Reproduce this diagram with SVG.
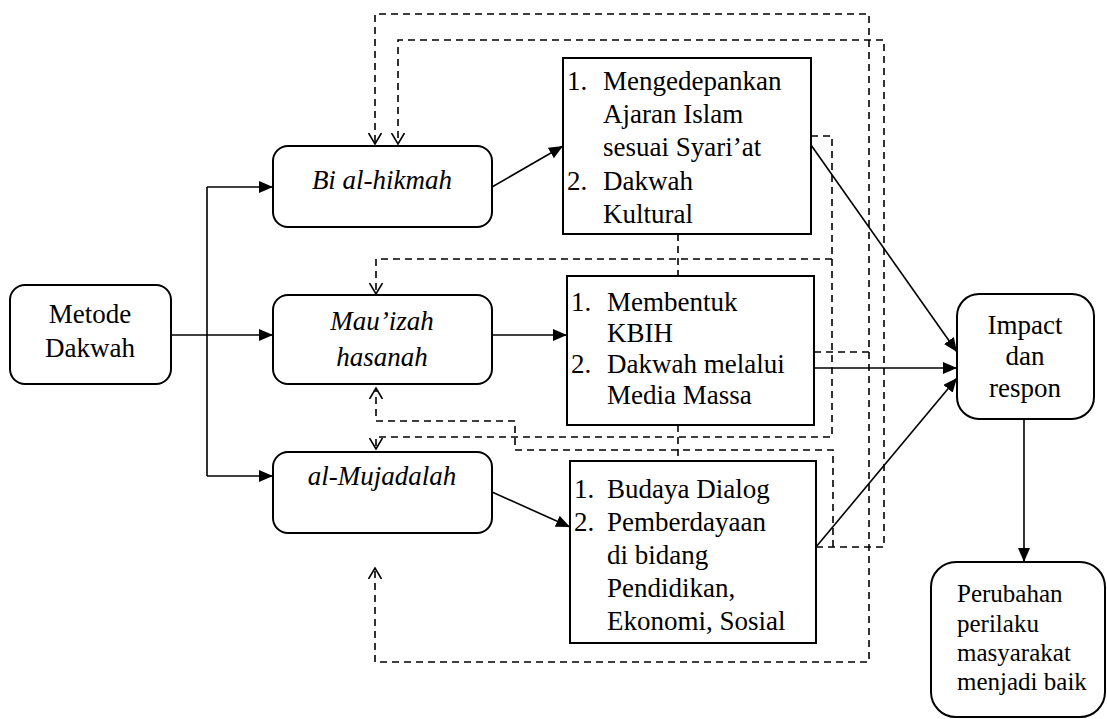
<svg xmlns="http://www.w3.org/2000/svg" width="1107" height="719" viewBox="0 0 1107 719">
<style>
.box{fill:#fff;stroke:#000;stroke-width:2}
.t{font-family:"Liberation Serif","Times New Roman",serif;font-size:27px;fill:#000}
.s{font-family:"Liberation Serif","Times New Roman",serif;font-size:25px;fill:#000}
.c{text-anchor:middle}
.i{font-style:italic}
.sol{fill:none;stroke:#000;stroke-width:1.6}
.das{fill:none;stroke:#000;stroke-width:1.6;stroke-dasharray:7 5}
</style>
<defs>
<marker id="arr" viewBox="0 0 14 12" refX="14" refY="6" markerWidth="14" markerHeight="12" orient="auto" markerUnits="userSpaceOnUse"><path d="M0,0 L14,6 L0,12 z" fill="#000"/></marker>
<marker id="open" viewBox="0 0 12 14" refX="11" refY="7" markerWidth="12" markerHeight="14" orient="auto" markerUnits="userSpaceOnUse"><path d="M0,0.5 L11,7 L0,13.5" fill="none" stroke="#000" stroke-width="1.6" stroke-dasharray="none"/></marker>
</defs>
<rect width="1107" height="719" fill="#fff"/>
<g id="connectors">
<path class="sol" d="M171,335 H207 M207,187 V476"/>
<path class="sol" d="M207,187 H273" marker-end="url(#arr)"/>
<path class="sol" d="M207,335 H273" marker-end="url(#arr)"/>
<path class="sol" d="M207,476 H273" marker-end="url(#arr)"/>
<path class="sol" d="M492,187 L563,146" marker-end="url(#arr)"/>
<path class="sol" d="M492,335 H567" marker-end="url(#arr)"/>
<path class="sol" d="M492,492 L570,527" marker-end="url(#arr)"/>
<path class="sol" d="M811,145 L957,352" marker-end="url(#arr)"/>
<path class="sol" d="M814,368 H957" marker-end="url(#arr)"/>
<path class="sol" d="M816,547 L957,378" marker-end="url(#arr)"/>
<path class="sol" d="M1024,419 V562" marker-end="url(#arr)"/>
<path class="das" d="M811,136 H832 V437 H376 V449" marker-end="url(#open)"/>
<path class="das" d="M832,259 H376 V294" marker-end="url(#open)"/>
<path class="das" d="M678,234 V276 M678,425 V461"/>
<path class="das" d="M814,352 H869 V14 H375 V144" marker-end="url(#open)"/>
<path class="das" d="M869,352 V662 H375 V568" marker-end="url(#open)"/>
<path class="das" d="M816,547 H884 V40 H398 V144" marker-end="url(#open)"/>
<path class="das" d="M833,547 V450 H515 V421 H376 V388" marker-end="url(#open)"/>
</g>
<g id="metode">
<rect class="box" x="10" y="285" width="161" height="99" rx="15"/>
<text class="t c" x="90" y="323">Metode</text>
<text class="t c" x="90" y="357">Dakwah</text>
</g>
<g id="bi-al-hikmah">
<rect class="box" x="273" y="146" width="219" height="81" rx="15"/>
<text class="t c i" x="382" y="189">Bi al-hikmah</text>
</g>
<g id="mauizah">
<rect class="box" x="273" y="295" width="219" height="89" rx="15"/>
<text class="t c i" x="382" y="330">Mau’izah</text>
<text class="t c i" x="382" y="366">hasanah</text>
</g>
<g id="al-mujadalah">
<rect class="box" x="273" y="452" width="219" height="81" rx="15"/>
<text class="t c i" x="382" y="485">al-Mujadalah</text>
</g>
<g id="hasil-1">
<rect class="box" x="563" y="58" width="248" height="176"/>
<text class="t" x="567" y="90">1.</text>
<text class="t" x="603" y="90">Mengedepankan</text>
<text class="t" x="603" y="123">Ajaran Islam</text>
<text class="t" x="603" y="156">sesuai Syari’at</text>
<text class="t" x="567" y="190">2.</text>
<text class="t" x="603" y="190">Dakwah</text>
<text class="t" x="603" y="223">Kultural</text>
</g>
<g id="hasil-2">
<rect class="box" x="567" y="276" width="247" height="149"/>
<text class="t" x="571" y="311">1.</text>
<text class="t" x="607" y="311">Membentuk</text>
<text class="t" x="607" y="342">KBIH</text>
<text class="t" x="571" y="373">2.</text>
<text class="t" x="607" y="373">Dakwah melalui</text>
<text class="t" x="607" y="404">Media Massa</text>
</g>
<g id="hasil-3">
<rect class="box" x="570" y="461" width="246" height="182"/>
<text class="t" x="574" y="498">1.</text>
<text class="t" x="607" y="498">Budaya Dialog</text>
<text class="t" x="574" y="531">2.</text>
<text class="t" x="607" y="531">Pemberdayaan</text>
<text class="t" x="607" y="564">di bidang</text>
<text class="t" x="607" y="597">Pendidikan,</text>
<text class="t" x="607" y="630">Ekonomi, Sosial</text>
</g>
<g id="impact">
<rect class="box" x="957" y="294" width="137" height="125" rx="22"/>
<text class="t c" x="1025" y="334">Impact</text>
<text class="t c" x="1025" y="365">dan</text>
<text class="t c" x="1025" y="397">respon</text>
</g>
<g id="perubahan">
<rect class="box" x="931" y="562" width="174" height="155" rx="25"/>
<text class="s" x="957" y="602">Perubahan</text>
<text class="s" x="957" y="632">perilaku</text>
<text class="s" x="957" y="661">masyarakat</text>
<text class="s" x="957" y="690">menjadi baik</text>
</g>
</svg>
